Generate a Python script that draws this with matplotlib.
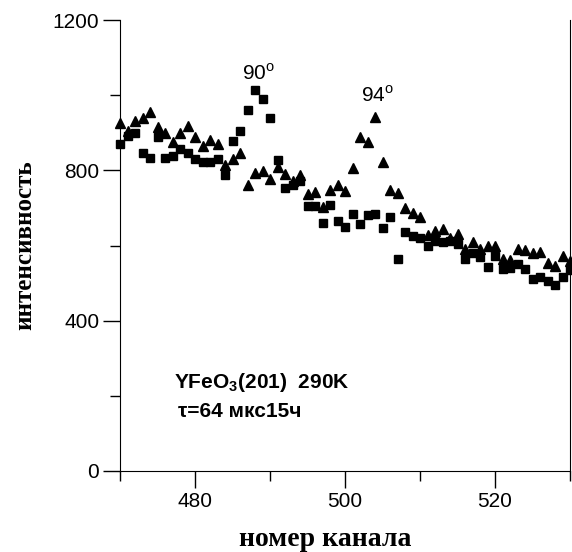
import matplotlib
matplotlib.use('Agg')
import matplotlib.pyplot as plt
from matplotlib.ticker import MultipleLocator

plt.rcParams['font.family'] = ['Liberation Sans', 'DejaVu Sans']
plt.rcParams['mathtext.fontset'] = 'custom'
plt.rcParams['mathtext.rm'] = 'Liberation Sans'
plt.rcParams['mathtext.bf'] = 'Liberation Sans:bold'

# номер канала
channels = list(range(470, 531))

# squares (peak near 488, "90o")
squares = [869, 891, 900, 847, 832, 889, 832, 838, 856, 847,
           829, 822, 821, 829, 787, 878, 905, 961, 1013, 989,
           938, 827, 754, 762, 771, 705, 705, 660, 709, 665,
           649, 683, 658, 680, 683, 647, 677, 564, 635, 626,
           620, 599, 611, 608, 611, 603, 563, 580, 570, 543,
           571, 538, 540, 552, 538, 511, 516, 505, 496, 516,
           536]

# triangles (peak near 504, "94o")
triangles = [927, 905, 932, 939, 956, 914, 899, 876, 900, 918,
             890, 866, 882, 869, 813, 831, 845, 760, 794, 798,
             778, 809, 790, 772, 788, 736, 742, 703, 747, 760,
             745, 807, 890, 876, 941, 822, 748, 740, 699, 686,
             675, 627, 638, 643, 620, 630, 591, 609, 590, 600,
             600, 565, 561, 591, 587, 579, 583, 554, 545, 571,
             558]

fig = plt.figure(figsize=(5.72, 5.52), dpi=100)
ax = fig.add_axes([120/572, 81/552, 450/572, 451/552])

ax.plot(channels, triangles, linestyle='none', marker='^', markersize=7.5,
        color='black', clip_on=False)
ax.plot(channels, squares, linestyle='none', marker='s', markersize=5.5,
        color='black', clip_on=False)

ax.set_xlim(470, 530)
ax.set_ylim(0, 1200)
ax.xaxis.set_minor_locator(MultipleLocator(10))
ax.yaxis.set_major_locator(MultipleLocator(400))
ax.yaxis.set_minor_locator(MultipleLocator(200))
ax.set_xticks([480, 500, 520])
ax.tick_params(which='major', direction='out', length=12, width=1, labelsize=15, pad=3)
ax.tick_params(which='minor', direction='out', length=7, width=1)
ax.spines['top'].set_visible(False)

ax.set_xlabel('номер канала', family='Liberation Serif', fontweight='bold',
              fontsize=20, labelpad=10)
ax.xaxis.set_label_coords(0.456, -0.125)
ax.set_ylabel('интенсивность', family='Liberation Serif', fontweight='bold',
              fontsize=18, labelpad=12)

ax.text(488.4, 1058, r'90$^\mathrm{o}$', fontsize=15, ha='center', va='center')
ax.text(504.3, 1000, r'94$^\mathrm{o}$', fontsize=15, ha='center', va='center')

ax.text(477.2, 235, r'YFeO$_\mathbf{3}$(201)  290K', fontsize=15, fontweight='bold',
        ha='left', va='center')
ax.text(477.7, 158, 'τ=64 мкс15ч', fontsize=15, fontweight='bold',
        ha='left', va='center')

fig.savefig('out.png', dpi=100)
